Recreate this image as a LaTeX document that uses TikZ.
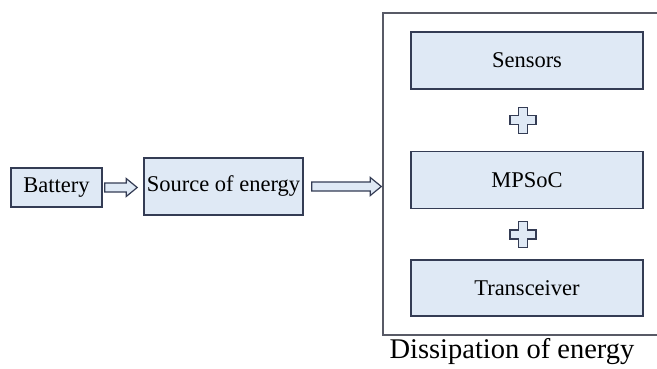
\documentclass[tikz,border=0pt]{standalone}
\usepackage{fontspec}
\setmainfont{Liberation Serif}
\usepackage{xcolor}
\usepackage{tikz}
\usetikzlibrary{positioning,calc}
\definecolor{boxfill}{RGB}{223,233,245}
\definecolor{boxline}{RGB}{52,60,84}
\definecolor{frameline}{RGB}{88,90,102}

% hollow block arrow between two points
\newcommand{\fatarrow}[2]{%
  \draw[hollow] let \p1=(#1), \p2=(#2) in
    (\x1,\y1+4.5pt) -- (\x2-11pt,\y1+4.5pt) -- (\x2-11pt,\y1+9pt) -- (\x2,\y1)
    -- (\x2-11pt,\y1-9pt) -- (\x2-11pt,\y1-4.5pt) -- (\x1,\y1-4.5pt) -- cycle;}
% hollow plus sign
\newcommand{\plusmark}[1]{%
  \draw[hollow] let \p1=(#1) in
    (\x1-4.5pt,\y1+13pt) -- (\x1+4.5pt,\y1+13pt) -- (\x1+4.5pt,\y1+4.5pt)
    -- (\x1+13pt,\y1+4.5pt) -- (\x1+13pt,\y1-4.5pt) -- (\x1+4.5pt,\y1-4.5pt)
    -- (\x1+4.5pt,\y1-13pt) -- (\x1-4.5pt,\y1-13pt) -- (\x1-4.5pt,\y1-4.5pt)
    -- (\x1-13pt,\y1-4.5pt) -- (\x1-13pt,\y1+4.5pt) -- (\x1-4.5pt,\y1+4.5pt) -- cycle;}

\begin{document}
\begin{tikzpicture}[x=1pt ,y=-1pt ,node distance = 61pt ,line join=miter ,font=\fontsize{22.5}{26}\selectfont ,block/.style ={ rectangle ,fill=boxfill , draw=boxline , line width=1.6pt , inner sep=0pt , text=black }, hollow/.style ={ fill=boxfill , draw=boxline , line width=1.2pt }]
\clip (0,0) rectangle (657,368);
\useasboundingbox (0,0) rectangle (657,368);
\node[draw=frameline ,line width=1.4pt ,minimum width=317pt ,minimum height=322pt] (dis) at (541.5,174) {};
\node[block ,minimum width=91pt ,minimum height=39pt] (bat) at (56.5,187.5) { Battery };
\node[block ,minimum width=159pt ,minimum height=57pt] (src) at (223.5,186.5) { Source of energy };
\node[block ,minimum width=232pt ,minimum height=57pt] (sens) at (527,60.5) { Sensors };
\node[block ,minimum width=232pt ,minimum height=57pt] (mps) [below = of sens] { MPSoC };
\node[block ,minimum width=232pt ,minimum height=56pt] (trx) [below = 50pt of mps] { Transceiver };
\node[font=\fontsize{28.5}{31}\selectfont] (cap) at (512,352) { Dissipation of energy };
\coordinate (a1) at ($(bat.east)+(2,0)$);
\coordinate (b1) at ($(src.west)+(-6,0)$);
\coordinate (a2) at ($(src.east)+(8,0)$);
\coordinate (b2) at ($(dis.west)+(-1,0)$);
\coordinate (p1) at ($(sens.south)!0.5!(mps.north)+(-4,0)$);
\coordinate (p2) at ($(mps.south)!0.5!(trx.north)+(-4,0)$);
\fatarrow{a1}{b1}
\fatarrow{a2}{b2}
\plusmark{p1}
\plusmark{p2}
\end{tikzpicture}
\end{document}
